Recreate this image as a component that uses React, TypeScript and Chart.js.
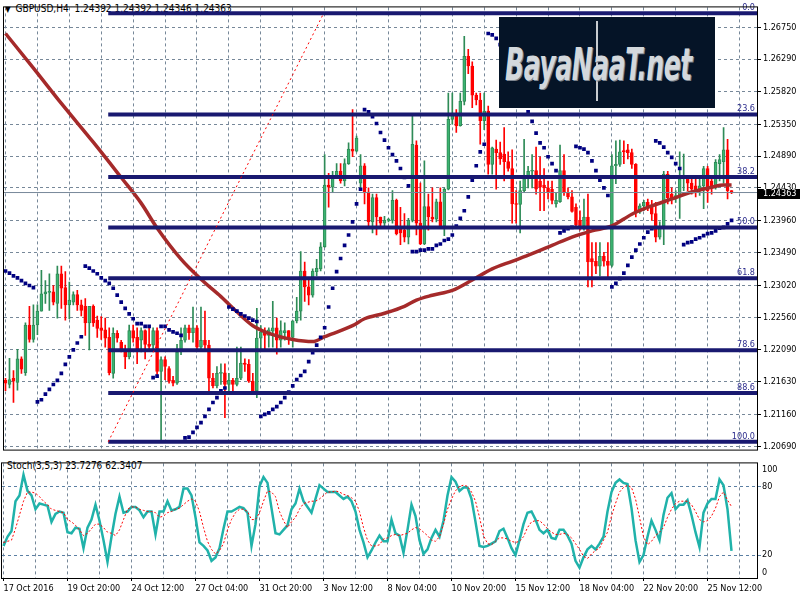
import React, { useEffect, useRef } from 'react';
import { Chart, registerables } from 'chart.js';

Chart.register(...registerables);

const FONT = "'DejaVu Sans Condensed', 'Liberation Sans', sans-serif";
const FS = 9;

const symbol = 'GBPUSD,H4';
const dateLabels = ['17 Oct 2016', '19 Oct 20:00', '24 Oct 12:00', '27 Oct 04:00', '31 Oct 20:00', '3 Nov 12:00', '8 Nov 04:00', '10 Nov 20:00', '15 Nov 12:00', '18 Nov 04:00', '22 Nov 20:00', '25 Nov 12:00'];
const dateLabelEvery = 16;
const gridEvery = 8;

const opens = [1.2165,1.2159,1.2168,1.2162,1.2196,1.2176,1.2245,1.2224,1.2245,1.2265,
1.2290,1.2292,1.2293,1.2276,1.2319,1.2299,1.2274,1.2278,1.2289,1.2274,
1.2272,1.2248,1.2272,1.2252,1.2241,1.2238,1.2227,1.2175,1.2233,1.2220,
1.2210,1.2199,1.2237,1.2227,1.2223,1.2237,1.2217,1.2216,1.2237,1.2178,
1.2195,1.2182,1.2165,1.2161,1.2206,1.2223,1.2241,1.2234,1.2241,1.2213,
1.2223,1.2216,1.2168,1.2157,1.2175,1.2176,1.2159,1.2165,1.2159,1.2168,
1.2190,1.2188,1.2164,1.2150,1.2226,1.2235,1.2230,1.2236,1.2241,1.2223,
1.2234,1.2237,1.2227,1.2251,1.2265,1.2323,1.2300,1.2288,1.2322,1.2326,
1.2358,1.2447,1.2444,1.2460,1.2467,1.2453,1.2478,1.2499,1.2496,1.2450,
1.2475,1.2437,1.2394,1.2429,1.2401,1.2392,1.2396,1.2396,1.2425,1.2385,
1.2382,1.2372,1.2396,1.2505,1.2392,1.2362,1.2416,1.2401,1.2398,1.2423,
1.2388,1.2441,1.2542,1.2551,1.2533,1.2568,1.2633,1.2619,1.2577,1.2570,
1.2540,1.2554,1.2477,1.2499,1.2494,1.2492,1.2481,1.2471,1.2420,1.2419,
1.2439,1.2456,1.2467,1.2468,1.2453,1.2447,1.2443,1.2441,1.2420,1.2423,
1.2468,1.2436,1.2430,1.2415,1.2396,1.2388,1.2401,1.2341,1.2337,1.2330,
1.2344,1.2337,1.2331,1.2475,1.2477,1.2497,1.2498,1.2494,1.2477,1.2408,
1.2417,1.2422,1.2416,1.2406,1.2372,1.2388,1.2463,1.2434,1.2427,1.2432,
1.2456,1.2457,1.2450,1.2446,1.2440,1.2446,1.2471,1.2453,1.2443,1.2478,
1.2481,1.2498,1.24392];

const highs = [1.2168,1.2197,1.2179,1.2210,1.2199,1.2248,1.2272,1.2274,1.2274,1.2324,
1.2309,1.2319,1.2302,1.2330,1.2330,1.2322,1.2307,1.2293,1.2295,1.2281,
1.2283,1.2272,1.2274,1.2258,1.2257,1.2255,1.2241,1.2241,1.2237,1.2223,
1.2216,1.2245,1.2245,1.2241,1.2241,1.2238,1.2241,1.2241,1.2241,1.2199,
1.2199,1.2185,1.2171,1.2217,1.2241,1.2245,1.2245,1.2271,1.2244,1.2271,
1.2265,1.2223,1.2175,1.2185,1.2189,1.2189,1.2175,1.2168,1.2213,1.2213,
1.2196,1.2195,1.2175,1.2269,1.2244,1.2241,1.2241,1.2279,1.2255,1.2251,
1.2248,1.2237,1.2251,1.2285,1.2351,1.2336,1.2312,1.2326,1.2340,1.2364,
1.2491,1.2464,1.2467,1.2478,1.2478,1.2485,1.2508,1.2556,1.2518,1.2491,
1.2478,1.2443,1.2434,1.2434,1.2401,1.2402,1.2399,1.2439,1.2427,1.2415,
1.2406,1.2399,1.2547,1.2511,1.2450,1.2482,1.2434,1.2443,1.2427,1.2443,
1.2443,1.2580,1.2580,1.2556,1.2580,1.2662,1.2643,1.2625,1.2580,1.2580,
1.2580,1.2561,1.2502,1.2512,1.2509,1.2530,1.2495,1.2498,1.2439,1.2453,
1.2513,1.2474,1.2491,1.2502,1.2488,1.2471,1.2453,1.2453,1.2436,1.2505,
1.2491,1.2443,1.2439,1.2420,1.2410,1.2427,1.2434,1.2364,1.2364,1.2364,
1.2350,1.2364,1.2491,1.2511,1.2512,1.2511,1.2506,1.2499,1.2478,1.2420,
1.2425,1.2427,1.2425,1.2422,1.2394,1.2467,1.2467,1.2443,1.2439,1.2495,
1.2492,1.2460,1.2456,1.2456,1.2457,1.2474,1.2474,1.2456,1.2484,1.2491,
1.2530,1.2513,1.24392];

const lows = [1.2150,1.2154,1.2133,1.2151,1.2175,1.2172,1.2220,1.2220,1.2231,1.2265,
1.2276,1.2266,1.2274,1.2255,1.2269,1.2252,1.2254,1.2274,1.2266,1.2258,
1.2230,1.2209,1.2243,1.2227,1.2224,1.2213,1.2173,1.2168,1.2220,1.2206,
1.2182,1.2196,1.2220,1.2189,1.2206,1.2196,1.2210,1.2209,1.2173,1.2079,
1.2166,1.2161,1.2157,1.2159,1.2202,1.2220,1.2224,1.2220,1.2210,1.2210,
1.2210,1.2147,1.2154,1.2154,1.2159,1.2111,1.2147,1.2147,1.2157,1.2166,
1.2178,1.2162,1.2145,1.2140,1.2209,1.2210,1.2213,1.2213,1.2203,1.2213,
1.2223,1.2217,1.2213,1.2248,1.2252,1.2279,1.2274,1.2285,1.2316,1.2323,
1.2357,1.2415,1.2436,1.2457,1.2450,1.2446,1.2477,1.2488,1.2495,1.2443,
1.2420,1.2386,1.2378,1.2375,1.2386,1.2386,1.2394,1.2392,1.2375,1.2361,
1.2365,1.2362,1.2394,1.2375,1.2361,1.2361,1.2382,1.2394,1.2394,1.2386,
1.2374,1.2440,1.2535,1.2523,1.2532,1.2563,1.2608,1.2559,1.2563,1.2506,
1.2527,1.2463,1.2463,1.2441,1.2477,1.2453,1.2467,1.2392,1.2392,1.2378,
1.2436,1.2443,1.2443,1.2434,1.2410,1.2410,1.2427,1.2420,1.2415,1.2422,
1.2432,1.2427,1.2408,1.2386,1.2382,1.2382,1.2300,1.2300,1.2319,1.2316,
1.2330,1.2314,1.2329,1.2449,1.2474,1.2478,1.2485,1.2471,1.2401,1.2406,
1.2410,1.2410,1.2396,1.2365,1.2369,1.2361,1.2420,1.2420,1.2422,1.2399,
1.2439,1.2439,1.2434,1.2430,1.2432,1.2413,1.2422,1.2434,1.2441,1.2453,
1.2450,1.2427,1.24346];

const closes = [1.2161,1.2166,1.2164,1.2196,1.2181,1.2245,1.2224,1.2245,1.2265,1.2290,
1.2293,1.2293,1.2278,1.2319,1.2298,1.2274,1.2281,1.2289,1.2274,1.2266,
1.2248,1.2272,1.2248,1.2240,1.2237,1.2226,1.2176,1.2233,1.2226,1.2210,
1.2199,1.2237,1.2226,1.2210,1.2237,1.2217,1.2214,1.2237,1.2178,1.2195,
1.2185,1.2164,1.2161,1.2206,1.2223,1.2241,1.2234,1.2241,1.2213,1.2223,
1.2216,1.2168,1.2157,1.2175,1.2176,1.2159,1.2165,1.2159,1.2168,1.2190,
1.2188,1.2164,1.2150,1.2226,1.2235,1.2230,1.2238,1.2241,1.2223,1.2237,
1.2237,1.2227,1.2251,1.2265,1.2323,1.2300,1.2288,1.2323,1.2327,1.2358,
1.2447,1.2444,1.2461,1.2467,1.2453,1.2478,1.2499,1.2496,1.2515,1.2475,
1.2437,1.2394,1.2429,1.2401,1.2392,1.2396,1.2397,1.2425,1.2377,1.2378,
1.2372,1.2396,1.2506,1.2392,1.2362,1.2416,1.2401,1.2398,1.2423,1.2388,
1.2441,1.2542,1.2551,1.2533,1.2568,1.2633,1.2619,1.2577,1.2570,1.2540,
1.2554,1.2477,1.2501,1.2494,1.2485,1.2481,1.2471,1.2420,1.2419,1.2439,
1.2456,1.2467,1.2468,1.2441,1.2444,1.2443,1.2436,1.2425,1.2425,1.2468,
1.2436,1.2430,1.2409,1.2389,1.2388,1.2401,1.2336,1.2336,1.2330,1.2344,
1.2337,1.2331,1.2475,1.2477,1.2495,1.2495,1.2494,1.2477,1.2408,1.2417,
1.2422,1.2416,1.2405,1.2372,1.2388,1.2463,1.2429,1.2427,1.2432,1.2456,
1.2457,1.2450,1.2441,1.2440,1.2446,1.2471,1.2439,1.2443,1.2480,1.2484,
1.2498,1.2439,1.24363];

const maBars = [0,7,14,22,29,34,38,44,49,54,58,62,67,72,77,80,87,90,95,100,103,107,112,117,122,127,132,137,142,147,152,157,162,167,172,177,180,182];
const maValues = [1.2666,1.2616,1.2565,1.2509,1.2458,1.2421,1.2385,1.2340,1.2311,1.2286,1.2264,1.2244,1.2231,1.2224,1.2221,1.2228,1.2244,1.2254,1.2262,1.2272,1.2281,1.2288,1.2295,1.2310,1.2326,1.2337,1.2348,1.2360,1.2372,1.2381,1.2388,1.2405,1.2417,1.2427,1.2437,1.2444,1.2447,1.2447];

const sarValues = [1.2323,1.2320,1.2316,1.2313,1.2309,1.2305,1.2302,1.2299,1.2134,1.2137,
1.2145,1.2152,1.2159,1.2165,1.2175,1.2188,1.2199,1.2209,1.2219,1.2228,
1.2330,1.2327,1.2323,1.2319,1.2313,1.2309,1.2305,1.2298,1.2288,1.2278,
1.2269,1.2261,1.2254,1.2247,1.2247,1.2243,1.2243,1.2169,1.2171,1.2243,
1.2243,1.2238,1.2235,1.2233,1.2230,1.2082,1.2083,1.2090,1.2097,1.2104,
1.2113,1.2123,1.2133,1.2140,1.2150,1.2154,1.2271,1.2268,1.2265,1.2261,
1.2258,1.2255,1.2252,1.2250,1.2113,1.2116,1.2118,1.2123,1.2127,1.2133,
1.2140,1.2148,1.2157,1.2166,1.2172,1.2178,1.2192,1.2205,1.2216,1.2227,
1.2241,1.2271,1.2298,1.2322,1.2341,1.2360,1.2375,1.2394,1.2420,1.2441,
1.2556,1.2553,1.2546,1.2536,1.2523,1.2512,1.2501,1.2491,1.2482,1.2471,
1.2458,1.2446,1.2351,1.2351,1.2353,1.2353,1.2355,1.2355,1.2360,1.2362,
1.2367,1.2369,1.2375,1.2388,1.2399,1.2410,1.2430,1.2454,1.2475,1.2495,
1.2506,1.2666,1.2664,1.2659,1.2650,1.2639,1.2626,1.2614,1.2599,1.2585,
1.2570,1.2553,1.2539,1.2522,1.2508,1.2501,1.2488,1.2478,1.2468,1.2378,
1.2381,1.2384,1.2386,1.2503,1.2501,1.2499,1.2494,1.2482,1.2468,1.2454,
1.2443,1.2432,1.2300,1.2305,1.2312,1.2320,1.2331,1.2343,1.2353,1.2362,
1.2371,1.2379,1.2384,1.2511,1.2508,1.2502,1.2494,1.2487,1.2478,1.2471,
1.2361,1.2364,1.2365,1.2369,1.2371,1.2374,1.2377,1.2378,1.2381,1.2385,
1.2386,1.2391,1.2396];

const stochParams = '3,5,3';
const stochMain = [28,36,41,67,72,90,76,72,60,65,
64,63,49,56,58,57,40,39,44,43,
26,44,51,64,50,33,14,36,56,71,
57,58,62,62,59,53,58,58,38,58,
58,67,59,60,62,78,78,72,53,31,
28,24,15,18,26,43,58,58,60,62,
61,57,28,47,80,88,83,61,39,38,
42,46,60,65,78,67,62,57,69,81,
78,75,75,75,72,69,71,67,58,42,
31,18,24,31,37,32,32,51,39,37,
22,42,64,54,33,21,25,35,42,36,
50,72,88,84,76,79,79,69,49,28,
27,28,30,32,41,43,35,26,20,33,
47,57,58,51,42,39,42,35,34,42,
42,37,30,15,9,18,25,28,25,30,
36,58,75,83,86,83,82,61,33,14,
20,36,50,42,33,55,70,74,60,64,
64,68,55,40,27,57,65,69,69,86,
81,60,23.7276];
const stochSignal = [31,32,33,43,55,67,75,75,74,71,
67,64,60,59,58,57,51,49,46,42,
37,39,43,47,47,44,40,39,37,42,
51,60,62,62,60,59,58,58,57,53,
54,57,58,60,61,64,67,69,67,58,
44,32,25,21,24,30,42,51,57,60,
60,58,51,51,57,67,76,75,71,58,
50,44,49,53,60,65,66,67,67,69,
72,75,75,76,75,73,72,70,67,58,
44,33,28,28,29,34,35,37,38,37,
38,39,42,44,43,40,37,33,32,36,
47,60,69,76,80,81,80,75,67,53,
37,30,29,32,35,35,34,32,31,32,
36,44,49,50,50,47,43,40,38,38,
39,38,35,30,25,19,17,21,24,26,
33,40,54,65,75,79,81,79,69,53,
36,29,32,37,40,44,53,60,65,67,
67,67,64,58,51,49,50,54,61,71,
75,68,62.3407];

const priceTicks = [1.2675, 1.2629, 1.2582, 1.2535, 1.2489, 1.2443, 1.2396, 1.2349, 1.2302, 1.2256, 1.2209, 1.2163, 1.2116, 1.2069];
const priceMin = 1.2065;
const priceMax = 1.27037;
const stochLevels = [20, 80];
const stochEdgeLabels = [100, 0];

const fibRatios = [0, 0.236, 0.382, 0.5, 0.618, 0.786, 0.886, 1];
const fibLabels = ['0.0', '23.6', '38.2', '50.0', '61.8', '78.6', '88.6', '100.0'];
const fibHigh = 1.26952;
const fibLow = 1.20762;
const fibFromBar = 25.75;
const fibToBar = 79.75;

const X_MIN = -0.375;
const X_MAX = 188.375;

const N = closes.length;
const idx = closes.map((_, i) => i);
const gridTicks: number[] = [];
for (let v = 0; v <= X_MAX; v += gridEvery) gridTicks.push(v);
const fibLevel = (r: number) => fibHigh - r * (fibHigh - fibLow);
const lastClose = closes[N - 1];

const UP_FILL = '#3CB371';
const UP_LINE = '#2E8B57';
const DOWN = '#FF0000';
const GRID = '#778899';

const framePlugin = {
  id: 'frame',
  afterDraw(chart: any) {
    const { ctx, chartArea: a } = chart;
    ctx.save();
    ctx.strokeStyle = '#000';
    ctx.lineWidth = 1;
    ctx.strokeRect(a.left - 0.5, a.top - 0.5, a.right - a.left + 1, a.bottom - a.top + 1);
    ctx.restore();
  },
};

const mainOverlay = {
  id: 'mainOverlay',
  afterDatasetsDraw(chart: any) {
    const { ctx, chartArea: a, scales } = chart;
    ctx.save();
    ctx.font = `${FS}px ${FONT}`;
    ctx.fillStyle = '#2B2B8C';
    ctx.textAlign = 'right';
    ctx.textBaseline = 'bottom';
    fibRatios.forEach((r, k) => {
      const py = scales.y.getPixelForValue(fibLevel(r));
      ctx.fillText(fibLabels[k], a.right - 2, py - 1);
    });
    ctx.restore();
  },
  afterDraw(chart: any) {
    const { ctx, chartArea: a, scales } = chart;
    const py = Math.round(scales.y.getPixelForValue(lastClose));
    ctx.save();
    ctx.fillStyle = '#000';
    ctx.fillRect(a.right + 1, py - 4, chart.width - a.right - 1, 10);
    ctx.fillStyle = '#fff';
    ctx.font = `${FS}px ${FONT}`;
    ctx.textAlign = 'left';
    ctx.textBaseline = 'middle';
    ctx.fillText(lastClose.toFixed(5), a.right + 6, py + 1);
    ctx.restore();
  },
};

const stochOverlay = {
  id: 'stochOverlay',
  afterDraw(chart: any) {
    const { ctx, chartArea: a } = chart;
    ctx.save();
    ctx.font = `${FS}px ${FONT}`;
    ctx.fillStyle = '#000';
    ctx.textAlign = 'left';
    ctx.textBaseline = 'top';
    ctx.fillText(String(stochEdgeLabels[0]), a.right + 5, a.top + 2);
    ctx.textBaseline = 'bottom';
    ctx.fillText(String(stochEdgeLabels[1]), a.right + 5, a.bottom - 1);
    ctx.restore();
  },
};

export default function App() {
  const mainRef = useRef<HTMLCanvasElement>(null);
  const stochRef = useRef<HTMLCanvasElement>(null);

  useEffect(() => {
    const fibSets = fibRatios.map((r) => ({
      type: 'line',
      data: [{ x: fibFromBar, y: fibLevel(r) }, { x: X_MAX, y: fibLevel(r) }],
      borderColor: '#191970',
      borderWidth: 4,
      pointRadius: 0,
      order: 2,
    }));

    const main = new Chart(mainRef.current as HTMLCanvasElement, {
      type: 'bar',
      data: {
        datasets: [
          {
            type: 'bar',
            data: idx.map((i) => ({ x: i, y: [lows[i], highs[i]] })),
            backgroundColor: idx.map((i) => (closes[i] >= opens[i] ? UP_LINE : DOWN)),
            barThickness: 1,
            grouped: false,
            order: 7,
          },
          {
            type: 'bar',
            data: idx.map((i) => ({ x: i, y: [opens[i], closes[i]] })),
            backgroundColor: idx.map((i) => (closes[i] >= opens[i] ? UP_FILL : DOWN)),
            borderColor: idx.map((i) => (closes[i] >= opens[i] ? UP_LINE : DOWN)),
            borderWidth: 1,
            borderSkipped: false,
            barThickness: 3,
            minBarLength: 1,
            grouped: false,
            order: 6,
          },
          {
            type: 'line',
            data: maBars.map((b, k) => ({ x: b, y: maValues[k] })),
            borderColor: '#A52A2A',
            borderWidth: 3.5,
            pointRadius: 0,
            cubicInterpolationMode: 'monotone',
            order: 5,
          },
          {
            type: 'line',
            data: idx.map((i) => ({ x: i, y: sarValues[i] })),
            showLine: false,
            pointStyle: 'rect',
            pointRadius: 2.6,
            pointBackgroundColor: '#000080',
            pointBorderWidth: 0,
            order: 4,
          },
          {
            type: 'line',
            data: [{ x: X_MIN, y: lastClose }, { x: X_MAX, y: lastClose }],
            borderColor: GRID,
            borderWidth: 1,
            pointRadius: 0,
            order: 3,
          },
          ...fibSets,
          {
            type: 'line',
            data: [{ x: fibFromBar, y: fibLow }, { x: fibToBar, y: fibHigh }],
            borderColor: '#FF0000',
            borderWidth: 1,
            borderDash: [2, 3],
            pointRadius: 0,
            order: 1,
          },
        ] as any,
      },
      options: {
        responsive: false,
        animation: false,
        events: [],
        layout: { padding: { left: 2, top: 2, right: 0, bottom: 2 } },
        plugins: { legend: { display: false }, tooltip: { enabled: false } },
        scales: {
          x: {
            type: 'linear',
            min: X_MIN,
            max: X_MAX,
            offset: false,
            afterBuildTicks: (s: any) => { s.ticks = gridTicks.map((v) => ({ value: v })); },
            afterFit: (s: any) => { s.height = 0; },
            ticks: { display: false },
            grid: { color: GRID, drawTicks: false, offset: false },
            border: { display: false, dash: [3, 3] },
          },
          y: {
            type: 'linear',
            position: 'right',
            min: priceMin,
            max: priceMax,
            afterBuildTicks: (s: any) => { s.ticks = priceTicks.map((v) => ({ value: v })); },
            afterFit: (s: any) => { s.width = 43; },
            ticks: {
              autoSkip: false,
              padding: 2,
              color: '#000',
              font: { family: FONT, size: FS },
              callback: (v: any) => Number(v).toFixed(5),
            },
            grid: { color: GRID, tickLength: 4, tickColor: '#000', tickBorderDash: [1, 0] },
            border: { display: true, color: '#000', dash: [3, 3] },
          },
        },
      } as any,
      plugins: [framePlugin, mainOverlay],
    });

    const stoch = new Chart(stochRef.current as HTMLCanvasElement, {
      type: 'line',
      data: {
        datasets: [
          {
            data: idx.map((i) => ({ x: i, y: stochSignal[i] })),
            borderColor: '#FF0000',
            borderWidth: 1,
            borderDash: [2, 2],
            pointRadius: 0,
          },
          {
            data: idx.map((i) => ({ x: i, y: stochMain[i] })),
            borderColor: '#20B2AA',
            borderWidth: 2.5,
            pointRadius: 0,
          },
        ],
      },
      options: {
        responsive: false,
        animation: false,
        events: [],
        layout: { padding: { left: 2, top: 1, right: 0, bottom: 0 } },
        plugins: { legend: { display: false }, tooltip: { enabled: false } },
        scales: {
          x: {
            type: 'linear',
            min: X_MIN,
            max: X_MAX,
            afterBuildTicks: (s: any) => { s.ticks = gridTicks.map((v) => ({ value: v })); },
            afterFit: (s: any) => { s.height = 22; },
            ticks: {
              autoSkip: false,
              maxRotation: 0,
              minRotation: 0,
              align: 'start',
              padding: 2,
              color: '#000',
              font: { family: FONT, size: FS },
              callback: (v: any) => (v % dateLabelEvery === 0 ? dateLabels[v / dateLabelEvery] ?? '' : ''),
            },
            grid: {
              color: GRID,
              drawTicks: true,
              tickLength: 3,
              tickColor: (c: any) => (c.tick && c.tick.value % dateLabelEvery === 0 ? '#000' : 'rgba(0,0,0,0)'),
              tickBorderDash: [1, 0],
            },
            border: { display: true, color: '#000', dash: [3, 3] },
          },
          y: {
            type: 'linear',
            position: 'right',
            min: 0,
            max: 100,
            afterBuildTicks: (s: any) => { s.ticks = [0, 20, 80, 100].map((v) => ({ value: v })); },
            afterFit: (s: any) => { s.width = 43; },
            ticks: {
              autoSkip: false,
              padding: 1,
              color: '#000',
              font: { family: FONT, size: FS },
              callback: (v: any) => (stochLevels.includes(Number(v)) ? String(v) : ''),
            },
            grid: {
              color: (c: any) => (c.tick && stochLevels.includes(c.tick.value) ? '#5B7FA3' : 'rgba(0,0,0,0)'),
              tickLength: 4,
              tickColor: (c: any) => (c.tick && stochLevels.includes(c.tick.value) ? '#5B7FA3' : 'rgba(0,0,0,0)'),
            },
            border: { display: true, color: '#000', dash: [3, 3] },
          },
        },
      } as any,
      plugins: [framePlugin, stochOverlay],
    });

    return () => {
      main.destroy();
      stoch.destroy();
    };
  }, []);

  const fmt = (v: number) => v.toFixed(5);
  const header = `${symbol}  ${fmt(opens[N - 1])} ${fmt(highs[N - 1])} ${fmt(lows[N - 1])} ${fmt(closes[N - 1])}`;
  const stochText = `Stoch(${stochParams}) ${stochMain[N - 1].toFixed(4)} ${stochSignal[N - 1].toFixed(4)}`;

  return (
    <div style={{ position: 'fixed', left: 0, top: 0, width: 800, height: 600, background: '#fff', overflow: 'hidden' }}>
      <div style={{ position: 'absolute', left: 5, top: 3, font: `10px ${FONT}`, color: '#000', whiteSpace: 'pre', zIndex: 0 }}>
        <span style={{ fontSize: 8, marginRight: 5 }}>▼</span>{header}
      </div>
      <canvas ref={mainRef} width={800} height={457} style={{ position: 'absolute', left: 0, top: 0, zIndex: 1 }} />
      <div style={{ position: 'absolute', left: 7, top: 460, font: `10px ${FONT}`, color: '#000', whiteSpace: 'pre', zIndex: 0 }}>
        {stochText}
      </div>
      <canvas ref={stochRef} width={800} height={143} style={{ position: 'absolute', left: 0, top: 457, zIndex: 1 }} />
      <div style={{ position: 'absolute', left: 499, top: 17, width: 216, height: 91, background: '#051427', zIndex: 2, overflow: 'hidden' }}>
        <div style={{ position: 'absolute', left: 97, top: 4, width: 2, height: 80, background: '#c8ccd0' }} />
        <div
          style={{
            position: 'absolute',
            left: 6,
            top: 21,
            font: `italic bold 28px ${FONT}`,
            color: '#d3d8dc',
            whiteSpace: 'nowrap',
            letterSpacing: -0.5,
            transform: 'scaleY(1.6)',
            transformOrigin: 'left top',
            textShadow: '1px 1px 0 #7d8590',
          }}
        >
          BayaNaaT.net
        </div>
      </div>
    </div>
  );
}
